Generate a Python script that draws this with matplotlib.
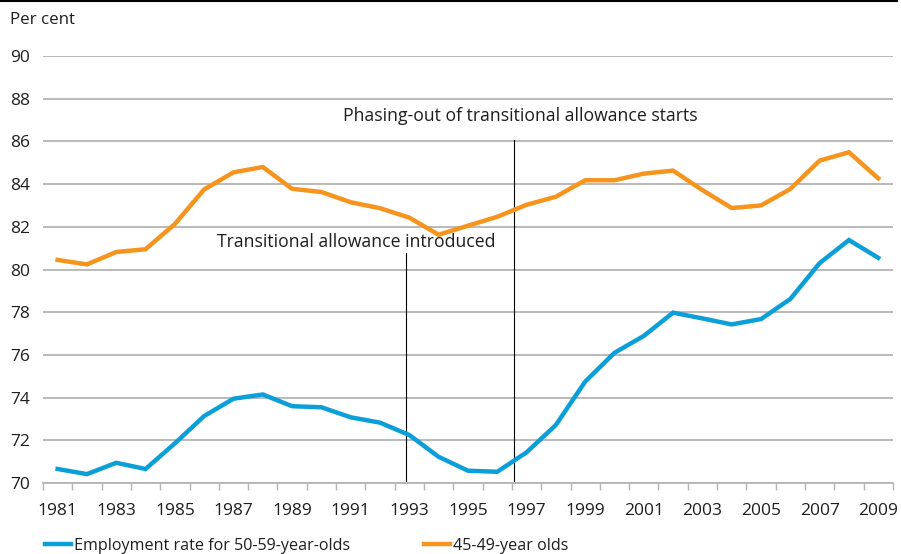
import matplotlib.pyplot as plt
from matplotlib.lines import Line2D

years = list(range(1981, 2010))
age_50_59 = [70.66, 70.42, 70.95, 70.66, 71.86, 73.14, 73.95, 74.15, 73.6, 73.55,
             73.08, 72.83, 72.25, 71.23, 70.58, 70.53, 71.44, 72.72, 74.75, 76.1,
             76.89, 77.98, 77.71, 77.43, 77.68, 78.62, 80.3, 81.38, 80.55]
age_45_49 = [80.45, 80.24, 80.82, 80.95, 82.13, 83.75, 84.55, 84.8, 83.78, 83.63,
             83.15, 82.87, 82.43, 81.63, 82.05, 82.47, 83.03, 83.41, 84.18, 84.18,
             84.49, 84.63, 83.72, 82.88, 83.0, 83.77, 85.1, 85.49, 84.27]
labels = ['Employment rate for 50-59-year-olds', '45-49-year olds']
yticks = [70, 72, 74, 76, 78, 80, 82, 84, 86, 88, 90]
events = [(1992.9, 'Transitional allowance introduced'),
          (1996.57, 'Phasing-out of transitional allowance starts')]

plt.rcParams['font.family'] = ['Open Sans', 'DejaVu Sans']
blue = '#0a9fd8'
orange = '#f7941d'
grid_c = '#b4b4b4'
txt = '#1e1e1e'

fig = plt.figure(figsize=(9.01, 5.54), dpi=100)
ax = fig.add_axes([0.0477, 0.128, 0.9433, 0.771])

l1, = ax.plot(years, age_50_59, color=blue, lw=3.2, solid_joinstyle='miter', zorder=3)
l2, = ax.plot(years, age_45_49, color=orange, lw=3.2, solid_joinstyle='miter', zorder=3)

ax.set_xlim(1980.5, 2009.5)
ax.set_ylim(70, 90)
ax.set_yticks(yticks)
ax.set_xticks(years[::2])
ax.set_xticks([y - 0.5 for y in years] + [2009.5], minor=True)
ax.tick_params(axis='x', which='major', length=0, pad=14, labelsize=12.5, colors=txt)
ax.tick_params(axis='x', which='minor', length=5, width=1, color=grid_c, direction='out')
ax.tick_params(axis='y', length=0, pad=9, labelsize=12.5, colors=txt)
ax.yaxis.grid(True, color=grid_c, lw=1.3)
ax.set_axisbelow(True)
for s in ['top', 'right', 'left']:
    ax.spines[s].set_visible(False)
ax.spines['bottom'].set_color(grid_c)
ax.spines['bottom'].set_linewidth(1.3)

# event markers
ax.plot([events[0][0]] * 2, [70, 80.77], color='black', lw=0.8, zorder=2)
ax.text(1991.2, 81.29, events[0][1], ha='center', va='center', fontsize=12.7, color=txt)
ax.plot([events[1][0]] * 2, [70, 86.07], color='black', lw=0.8, zorder=2)
ax.text(1996.8, 87.19, events[1][1], ha='center', va='center', fontsize=12.7, color=txt)

fig.text(0.011, 0.963, 'Per cent', ha='left', va='center', fontsize=12.2, color=txt)
fig.add_artist(Line2D([0, 0.996], [0.999, 0.999], color='black', lw=1.5))

fig.legend([l1, l2], labels, loc='center left', bbox_to_anchor=(0.05, 0.0144), ncol=2,
           frameon=False, fontsize=11.6, handlelength=1.6, handletextpad=0.2,
           columnspacing=4.6, borderaxespad=0, borderpad=0, labelcolor=txt)

fig.savefig('out.png', dpi=100)
